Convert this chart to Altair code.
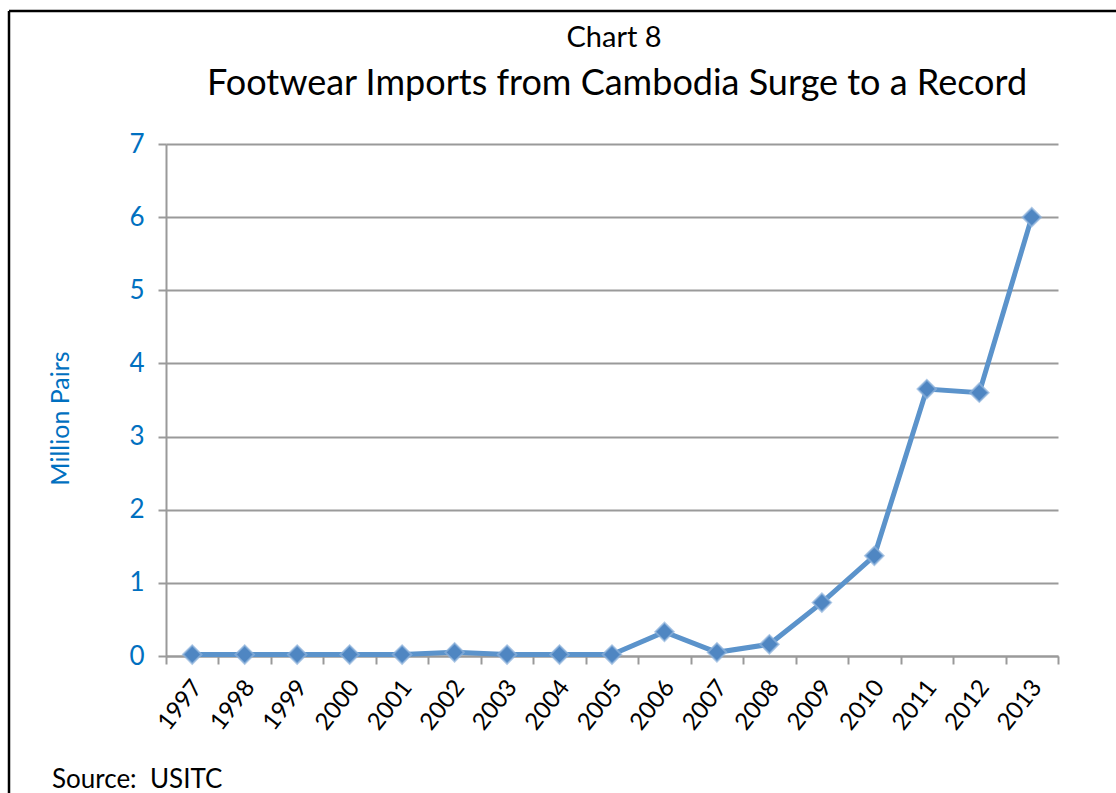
import altair as alt
import pandas as pd

# Annual US footwear imports from Cambodia, million pairs
years = [str(y) for y in range(1997, 2014)]
pairs = [0.02, 0.02, 0.02, 0.02, 0.02, 0.05, 0.02, 0.02, 0.02,
         0.33, 0.05, 0.16, 0.73, 1.37, 3.65, 3.60, 6.00]
y_ticks = [0, 1, 2, 3, 4, 5, 6, 7]

FONT = "Lato"
BLUE = "#0070C0"
GRID = "#9A9A9A"

df = pd.DataFrame({"year": years, "pairs": pairs})

W, H = 892, 512
LEFT, TOP = 166, 144

x_enc = alt.X(
    "year:O",
    sort=years,
    scale=alt.Scale(type="band", paddingInner=0, paddingOuter=0),
    axis=alt.Axis(
        title=None, labelAngle=308, labelAlign="right", labelBaseline="middle",
        labelFont=FONT, labelFontSize=24, labelColor="#000000",
        labelPadding=19, labelOffset=5,
        tickBand="extent", tickSize=8, tickWidth=2, tickColor=GRID,
        domainColor=GRID, domainWidth=2, grid=False,
    ),
)
y_enc = alt.Y(
    "pairs:Q",
    scale=alt.Scale(domain=[0, 7], nice=False),
    axis=alt.Axis(
        values=y_ticks, format="d", title="Million Pairs",
        titleFont=FONT, titleFontSize=25, titleFontWeight="normal", titleColor=BLUE,
        titleAngle=270, titleX=-106, titleY=274, titleAlign="center", titleBaseline="middle",
        labelFont=FONT, labelFontSize=26, labelColor=BLUE, labelPadding=14,
        tickSize=8, tickWidth=2, tickColor=GRID,
        domainColor=GRID, domainWidth=2,
        grid=True, gridColor=GRID, gridWidth=2,
    ),
)

base = alt.Chart(df)
line = base.mark_line(color="#5B93CB", strokeWidth=5).encode(x=x_enc, y=y_enc)
dots = base.mark_point(
    shape="diamond", filled=True, size=340, color="#4F86C2",
    stroke="#8DB2DC", strokeWidth=2, strokeOpacity=0.7, opacity=1,
).encode(x=x_enc, y=y_enc)

def label(text, x, y, size, align="center"):
    return alt.Chart(pd.DataFrame({"t": [text]})).mark_text(
        font=FONT, fontSize=size, color="#000000", align=align, baseline="middle"
    ).encode(text="t:N", x=alt.value(x), y=alt.value(y))

header = label("Chart 8", 614 - LEFT, 38 - TOP, 29)
title = label("Footwear Imports from Cambodia Surge to a Record", 617 - LEFT, 84 - TOP, 36)
source = label("Source:\u00a0 USITC", 52 - LEFT, 780 - TOP, 26, align="left")

frame_top = alt.Chart(pd.DataFrame({"k": [0]})).mark_rule(color="#000000", strokeWidth=2.5).encode(
    x=alt.value(9 - LEFT), x2=alt.value(1116 - LEFT), y=alt.value(11 - TOP)
)
frame_left = alt.Chart(pd.DataFrame({"k": [0]})).mark_rule(color="#000000", strokeWidth=2.5).encode(
    x=alt.value(9 - LEFT), y=alt.value(11 - TOP), y2=alt.value(793 - TOP)
)

chart = alt.layer(line, dots, header, title, source, frame_top, frame_left).properties(
    width=W, height=H,
    autosize=alt.AutoSizeParams(type="none"),
    padding={"left": LEFT, "top": TOP, "right": 1116 - LEFT - W, "bottom": 793 - TOP - H},
    background="#FFFFFF",
).configure_view(stroke=None)

chart.save("out.html", embed_options={"renderer": "svg", "actions": False})
